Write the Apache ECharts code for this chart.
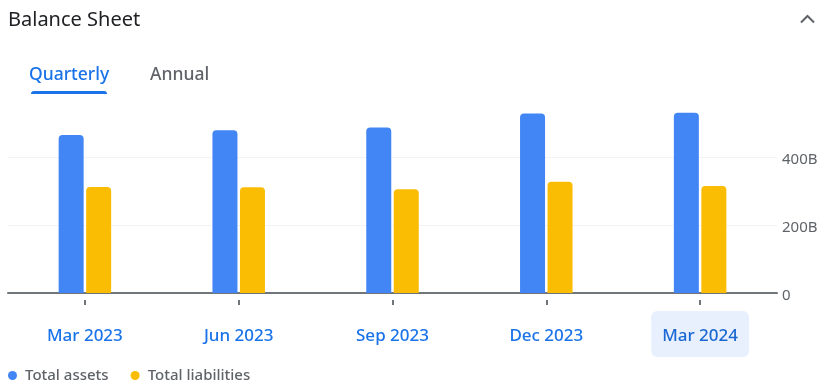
<!DOCTYPE html>
<html>
<head>
<meta charset="utf-8">
<script src="https://cdn.jsdelivr.net/npm/echarts@6/dist/echarts.min.js"></script>
<style>
html,body{margin:0;padding:0;background:#fff;}
#chart{width:826px;height:391px;}
</style>
</head>
<body>
<div id="chart"></div>
<script>
var categories = ['Mar 2023', 'Jun 2023', 'Sep 2023', 'Dec 2023', 'Mar 2024'];
var totalAssets = [465, 479, 487, 528, 530];
var totalLiabilities = [312, 311, 305, 327, 315];
var yTicks = [0, 200, 400];
var seriesNames = ['Total assets', 'Total liabilities'];
var highlightedIndex = 4;

var chart = echarts.init(document.getElementById('chart'));
var FONT = '"Noto Sans"';

var option = {
  animation: false,
  textStyle: { fontFamily: FONT },
  grid: { left: 8, right: 49, top: 89, bottom: 98 },
  legend: {
    data: seriesNames,
    left: 8,
    top: 368,
    padding: 0,
    icon: 'circle',
    itemWidth: 9,
    itemHeight: 9,
    itemGap: 22,
    textStyle: { color: '#5f6368', fontSize: 15, fontWeight: 500, fontFamily: FONT, padding: [2, 0, 0, 3] }
  },
  xAxis: [{
    type: 'category',
    data: categories,
    axisLine: { show: true, lineStyle: { color: '#70757a', width: 2 } },
    axisTick: { show: false },
    axisLabel: {
      margin: 18,
      formatter: function (v, i) { return i === highlightedIndex ? '{h|' + v + '}' : '{n|' + v + '}'; },
      rich: {
        n: { color: '#1a73e8', fontSize: 17, fontWeight: 500, fontFamily: FONT, padding: [17, 11, 12, 11] },
        h: { color: '#1967d2', fontSize: 17, fontWeight: 500, fontFamily: FONT, padding: [17, 11, 12, 11], backgroundColor: '#e8f0fe', borderRadius: 6 }
      }
    }
  }, {
    type: 'category',
    data: categories,
    position: 'bottom',
    offset: 7,
    axisLine: { show: false },
    axisTick: { show: true, alignWithLabel: true, length: 5, lineStyle: { color: '#70757a', width: 2 } },
    axisLabel: { show: false }
  }],
  yAxis: {
    type: 'value',
    position: 'right',
    min: 0,
    max: 600,
    interval: 200,
    axisLine: { show: false },
    axisTick: { show: false },
    splitLine: { show: true, showMaxLine: false, lineStyle: { color: '#f1f3f4', width: 1 } },
    axisLabel: {
      margin: 5,
      showMaxLabel: false,
      formatter: function (v) { return yTicks.indexOf(v) < 0 ? '' : '{y|' + (v === 0 ? '0' : v + 'B') + '}'; },
      rich: {
        y: { color: '#5f6368', fontSize: 15, fontFamily: FONT, padding: [6, 0, 0, 0] }
      }
    }
  },
  series: [{
    name: seriesNames[0],
    type: 'bar',
    data: totalAssets,
    barWidth: 25,
    barGap: '10%',
    itemStyle: { color: '#4285f4', borderRadius: [4, 4, 0, 0] }
  }, {
    name: seriesNames[1],
    type: 'bar',
    data: totalLiabilities,
    barWidth: 25,
    barGap: '10%',
    itemStyle: { color: '#fbbc04', borderRadius: [4, 4, 0, 0] }
  }],
  graphic: [
    { type: 'text', left: 8, top: 10, style: { text: 'Balance Sheet', fill: '#202124', font: '400 20px ' + FONT } },
    { type: 'polyline', shape: { points: [[801, 22.5], [807.5, 16], [814, 22.5]] }, style: { stroke: '#5f6368', lineWidth: 2, fill: null } },
    { type: 'text', left: 29, top: 66, style: { text: 'Quarterly', fill: '#1a73e8', font: '500 17.5px ' + FONT } },
    { type: 'text', left: 150, top: 66, style: { text: 'Annual', fill: '#5f6368', font: '500 17.5px ' + FONT } },
    { type: 'rect', shape: { x: 31, y: 91, width: 76, height: 3, r: [3, 3, 0, 0] }, style: { fill: '#1a73e8' } }
  ]
};
chart.setOption(option);
</script>
</body>
</html>
